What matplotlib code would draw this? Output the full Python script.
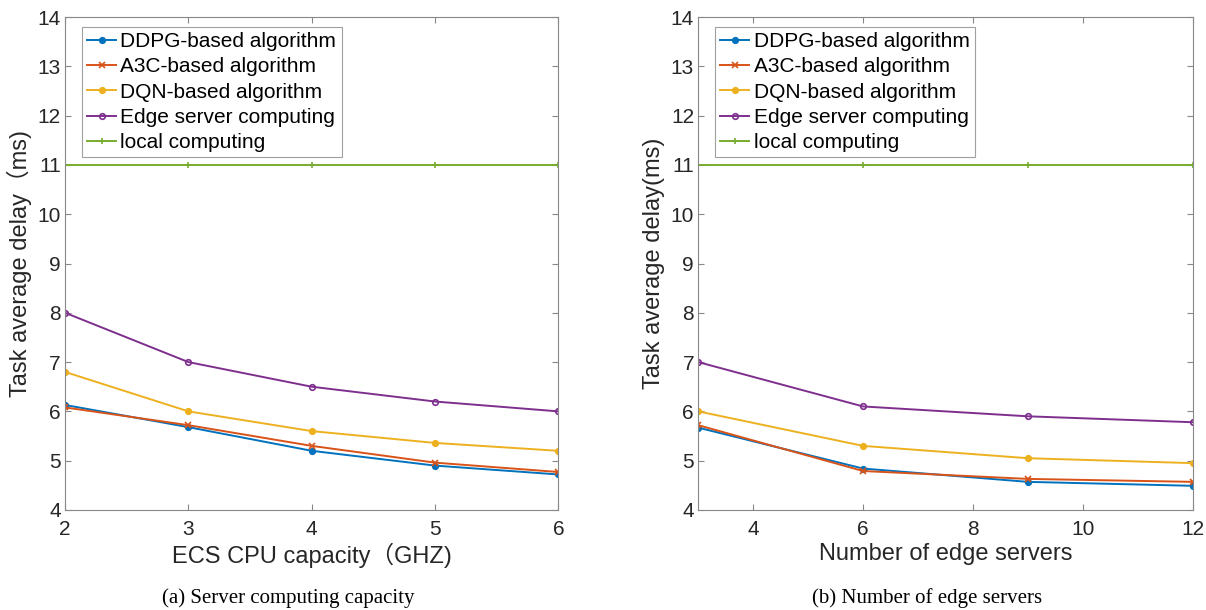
import numpy as np
import matplotlib
matplotlib.use("Agg")
import matplotlib.pyplot as plt

plt.rcParams['font.family'] = ['Liberation Sans', 'Noto Sans CJK SC', 'DejaVu Sans']

# (a) server computing capacity
cpu = [2, 3, 4, 5, 6]
ddpg_a = [6.13, 5.68, 5.20, 4.90, 4.72]
a3c_a = [6.08, 5.72, 5.30, 4.96, 4.77]
dqn_a = [6.80, 6.00, 5.60, 5.36, 5.20]
edge_a = [8.00, 7.00, 6.50, 6.20, 6.00]
local_a = [11, 11, 11, 11, 11]

# (b) number of edge servers
servers = [3, 6, 9, 12]
ddpg_b = [5.67, 4.84, 4.57, 4.49]
a3c_b = [5.72, 4.79, 4.63, 4.57]
dqn_b = [6.00, 5.30, 5.05, 4.95]
edge_b = [7.00, 6.10, 5.90, 5.78]
local_b = [11, 11, 11, 11]

labels = ['DDPG-based algorithm', 'A3C-based algorithm', 'DQN-based algorithm',
          'Edge server computing', 'local computing']
colors = ['#0072BD', '#D95319', '#EDB120', '#7E2F8E', '#77AC30']
markers = ['o', 'x', 'o', 'o', '+']
fills = [True, True, True, False, True]

fig = plt.figure(figsize=(12.06, 6.10), dpi=100)
ax1 = fig.add_axes([0.054, 0.164, 0.409, 0.808])
ax2 = fig.add_axes([0.579, 0.164, 0.410, 0.808])


def draw(ax, x, series, xlabel, ylabel, xticks):
    for y, lab, c, m, f in zip(series, labels, colors, markers, fills):
        ax.plot(x, y, color=c, marker=m, markersize=4, lw=1.4, label=lab,
                markerfacecolor=c if f else 'none', markeredgewidth=1.2)
    ax.set_xlim(x[0], x[-1])
    ax.set_ylim(4, 14)
    ax.set_yticks(range(4, 15))
    ax.set_xticks(xticks)
    ax.tick_params(direction='in', labelsize=15, colors='#262626', length=4,
                   top=True, right=True, color='#888888', pad=3)
    ax.tick_params(axis='x', pad=7)
    for s in ax.spines.values():
        s.set_color('#888888')
        s.set_linewidth(0.8)
    ax.set_xlabel(xlabel, fontsize=17, color='#262626', labelpad=3)
    ax.set_ylabel(ylabel, fontsize=17, color='#262626', labelpad=4)
    leg = ax.legend(loc='upper left', bbox_to_anchor=(0.034, 0.98),
                    fontsize=15, handlelength=1.4,
                    handletextpad=0.2, borderpad=0.25, labelspacing=0.3,
                    fancybox=False, borderaxespad=0)
    leg.get_frame().set_edgecolor('#888888')
    leg.get_frame().set_linewidth(0.8)


draw(ax1, cpu, [ddpg_a, a3c_a, dqn_a, edge_a, local_a],
     'ECS CPU capacity（GHZ)', 'Task average delay（ms)', cpu)
draw(ax2, servers, [ddpg_b, a3c_b, dqn_b, edge_b, local_b],
     'Number of edge servers', 'Task average delay(ms)', [4, 6, 8, 10, 12])

fig.text(0.239, 0.02, '(a) Server computing capacity', ha='center', va='center',
         fontsize=15, family='Liberation Serif')
fig.text(0.769, 0.02, '(b) Number of edge servers', ha='center', va='center',
         fontsize=15, family='Liberation Serif')

fig.savefig('out.png', dpi=100)
